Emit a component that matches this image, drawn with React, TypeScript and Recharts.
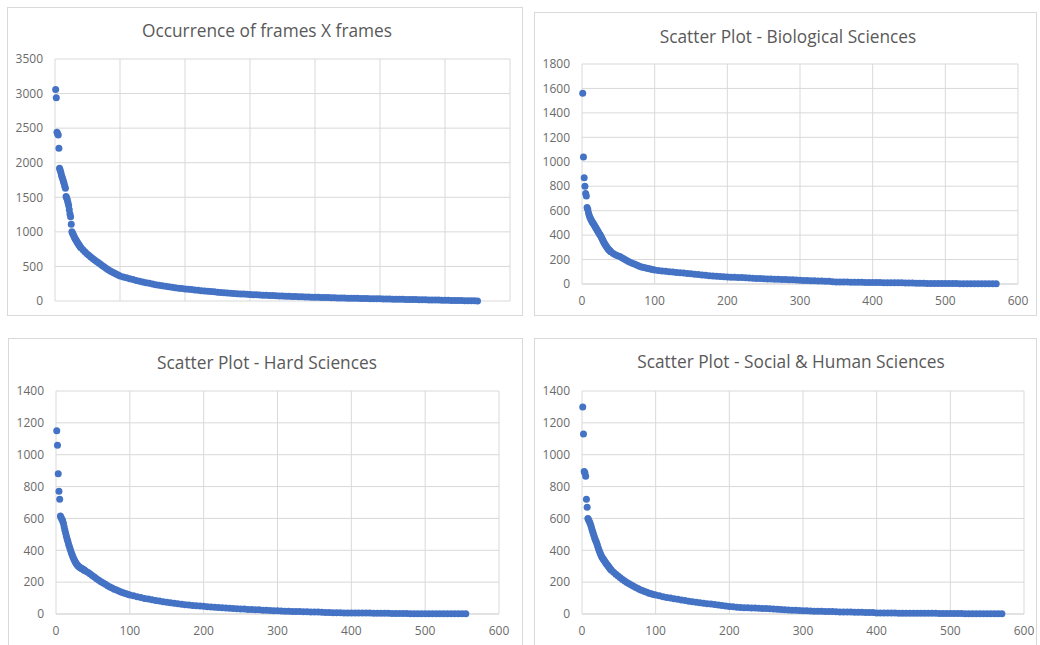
import { ScatterChart, Scatter, XAxis, YAxis, CartesianGrid } from "recharts";

// rank -> occurrences
const allFrames: [number, number][] = [
  [1, 3060], [2, 2940], [3, 2440], [4, 2420], [5, 2400], [6, 2210], [7, 1920], [8, 1890], [9, 1860], [10, 1820],
  [11, 1790], [12, 1760], [13, 1730], [14, 1700], [15, 1660], [16, 1630], [17, 1510], [18, 1490], [19, 1460], [20, 1420],
  [21, 1380], [22, 1320], [23, 1260], [24, 1220], [25, 1110], [26, 1000], [27, 980], [28, 960], [29, 940], [30, 920],
  [31, 900], [32, 885], [33, 870], [34, 855], [35, 840], [36, 825], [37, 810], [38, 795], [39, 782], [40, 770],
  [43, 740], [46, 712], [49, 685], [52, 660], [55, 636], [58, 613], [61, 592], [64, 572], [67, 552], [70, 532],
  [73, 510], [76, 490], [79, 470], [82, 452], [85, 435], [88, 420], [91, 405], [94, 390], [97, 375], [100, 362],
  [105, 348], [110, 335], [115, 322], [120, 310], [125, 298], [130, 287], [135, 276], [140, 265], [145, 255], [150, 245],
  [155, 236], [160, 228], [165, 220], [170, 212], [175, 205], [180, 198], [185, 192], [190, 186], [195, 180], [200, 175],
  [205, 170], [210, 165], [215, 160], [220, 155], [225, 150], [230, 145], [235, 140], [240, 136], [245, 132], [250, 128],
  [255, 124], [260, 120], [265, 117], [270, 113], [275, 110], [280, 106], [285, 103], [290, 100], [295, 97], [300, 94],
  [305, 91], [310, 89], [315, 86], [320, 84], [325, 82], [330, 80], [335, 78], [340, 76], [345, 74], [350, 72],
  [355, 70], [360, 68], [365, 66], [370, 64], [375, 62], [380, 61], [385, 59], [390, 58], [395, 56], [400, 55],
  [405, 53], [410, 52], [415, 50], [420, 49], [425, 48], [430, 46], [435, 45], [440, 44], [445, 42], [450, 41],
  [455, 40], [460, 39], [465, 38], [470, 37], [475, 36], [480, 35], [485, 34], [490, 33], [495, 32], [500, 31],
  [505, 30], [510, 29], [515, 28], [520, 27], [525, 26], [530, 25], [535, 24], [540, 23], [545, 22], [550, 21],
  [555, 20], [560, 19], [565, 18], [570, 17], [575, 16], [580, 15], [585, 14], [590, 13], [595, 12], [600, 11],
  [605, 10], [610, 9], [615, 8], [620, 7], [625, 6], [630, 5], [635, 4], [640, 3], [645, 2], [650, 1],
];

const biological: [number, number][] = [
  [1, 1560], [2, 1040], [3, 870], [4, 800], [5, 740], [6, 720], [7, 625], [8, 610], [9, 580], [10, 560],
  [11, 545], [12, 532], [13, 520], [14, 510], [15, 500], [16, 490], [17, 480], [18, 470], [19, 460], [20, 450],
  [21, 440], [22, 430], [23, 420], [24, 410], [25, 400], [26, 390], [27, 378], [28, 366], [29, 354], [30, 342],
  [31, 332], [32, 322], [33, 312], [34, 302], [35, 294], [36, 287], [37, 280], [38, 274], [39, 268], [40, 262],
  [43, 250], [46, 240], [49, 232], [52, 224], [55, 214], [58, 204], [61, 194], [64, 185], [67, 176], [70, 168],
  [73, 161], [76, 154], [79, 146], [82, 140], [85, 135], [88, 130], [91, 126], [94, 122], [97, 118], [100, 115],
  [105, 111], [110, 107], [115, 104], [120, 101], [125, 98], [130, 95], [135, 92], [140, 89], [145, 86], [150, 83],
  [155, 80], [160, 77], [165, 74], [170, 71], [175, 68], [180, 66], [185, 63], [190, 61], [195, 59], [200, 57],
  [205, 56], [210, 55], [215, 54], [220, 53], [225, 52], [230, 50], [235, 48], [240, 46], [245, 44], [250, 42],
  [255, 41], [260, 40], [265, 39], [270, 38], [275, 37], [280, 36], [285, 35], [290, 34], [295, 32], [300, 30],
  [305, 29], [310, 28], [315, 27], [320, 26], [325, 25], [330, 24], [335, 23], [340, 22], [345, 18], [350, 17],
  [355, 17], [360, 16], [365, 16], [370, 15], [375, 15], [380, 14], [385, 14], [390, 13], [395, 13], [400, 12],
  [405, 12], [410, 12], [415, 11], [420, 11], [425, 11], [430, 10], [435, 10], [440, 10], [445, 9], [450, 9],
  [455, 8], [460, 6], [465, 6], [470, 6], [475, 5], [480, 5], [485, 5], [490, 5], [495, 4], [500, 4],
  [505, 4], [510, 4], [515, 4], [520, 3], [525, 3], [530, 3], [535, 3], [540, 3], [545, 2], [550, 2],
  [555, 2], [560, 2], [565, 2], [570, 2],
];

const hardSciences: [number, number][] = [
  [1, 1150], [2, 1060], [3, 880], [4, 770], [5, 720], [6, 615], [7, 605], [8, 595], [9, 585], [10, 570],
  [11, 548], [12, 528], [13, 508], [14, 490], [15, 472], [16, 456], [17, 440], [18, 425], [19, 410], [20, 395],
  [21, 382], [22, 370], [23, 358], [24, 347], [25, 337], [26, 328], [27, 320], [28, 313], [29, 307], [30, 302],
  [31, 298], [32, 294], [33, 291], [34, 288], [35, 285], [36, 282], [37, 279], [38, 276], [39, 273], [40, 270],
  [43, 262], [46, 252], [49, 242], [52, 232], [55, 222], [58, 212], [61, 203], [64, 194], [67, 186], [70, 178],
  [73, 170], [76, 163], [79, 156], [82, 150], [85, 144], [88, 138], [91, 133], [94, 128], [97, 124], [100, 120],
  [105, 114], [110, 108], [115, 103], [120, 98], [125, 94], [130, 89], [135, 85], [140, 81], [145, 77], [150, 73],
  [155, 70], [160, 67], [165, 64], [170, 61], [175, 58], [180, 56], [185, 54], [190, 52], [195, 50], [200, 48],
  [205, 46], [210, 44], [215, 42], [220, 41], [225, 39], [230, 38], [235, 36], [240, 35], [245, 33], [250, 32],
  [255, 31], [260, 29], [265, 28], [270, 27], [275, 26], [280, 24], [285, 23], [290, 22], [295, 21], [300, 20],
  [305, 19], [310, 18], [315, 17], [320, 16], [325, 15], [330, 15], [335, 14], [340, 14], [345, 13], [350, 12],
  [355, 12], [360, 11], [365, 9], [370, 9], [375, 8], [380, 8], [385, 8], [390, 7], [395, 7], [400, 7],
  [405, 7], [410, 6], [415, 6], [420, 6], [425, 6], [430, 5], [435, 5], [440, 5], [445, 5], [450, 4],
  [455, 3], [460, 3], [465, 3], [470, 3], [475, 3], [480, 2], [485, 2], [490, 2], [495, 2], [500, 2],
  [505, 2], [510, 2], [515, 1], [520, 1], [525, 1], [530, 1], [535, 1], [540, 1], [545, 1], [550, 1],
  [555, 1],
];

const socialHuman: [number, number][] = [
  [1, 1300], [2, 1130], [3, 895], [4, 885], [5, 865], [6, 720], [7, 670], [8, 600], [9, 590], [10, 580],
  [11, 570], [12, 555], [13, 540], [14, 525], [15, 510], [16, 495], [17, 480], [18, 468], [19, 456], [20, 444],
  [21, 430], [22, 416], [23, 402], [24, 390], [25, 378], [26, 368], [27, 358], [28, 350], [29, 343], [30, 337],
  [31, 330], [32, 323], [33, 316], [34, 310], [35, 304], [36, 298], [37, 292], [38, 286], [39, 280], [40, 275],
  [43, 262], [46, 250], [49, 238], [52, 227], [55, 217], [58, 207], [61, 198], [64, 190], [67, 182], [70, 174],
  [73, 167], [76, 160], [79, 153], [82, 147], [85, 141], [88, 136], [91, 131], [94, 127], [97, 123], [100, 119],
  [105, 114], [110, 109], [115, 104], [120, 100], [125, 96], [130, 92], [135, 88], [140, 84], [145, 80], [150, 77],
  [155, 74], [160, 71], [165, 68], [170, 65], [175, 62], [180, 59], [185, 56], [190, 53], [195, 50], [200, 47],
  [205, 45], [210, 43], [215, 41], [220, 40], [225, 39], [230, 38], [235, 37], [240, 36], [245, 35], [250, 34],
  [255, 33], [260, 32], [265, 30], [270, 28], [275, 26], [280, 25], [285, 24], [290, 23], [295, 22], [300, 21],
  [305, 20], [310, 19], [315, 18], [320, 18], [325, 17], [330, 16], [335, 16], [340, 15], [345, 14], [350, 13],
  [355, 13], [360, 12], [365, 12], [370, 11], [375, 11], [380, 11], [385, 10], [390, 10], [395, 9], [400, 7],
  [405, 7], [410, 6], [415, 6], [420, 6], [425, 6], [430, 5], [435, 5], [440, 5], [445, 5], [450, 5],
  [455, 4], [460, 4], [465, 4], [470, 4], [475, 4], [480, 4], [485, 3], [490, 3], [495, 3], [500, 3],
  [505, 3], [510, 3], [515, 3], [520, 2], [525, 2], [530, 2], [535, 2], [540, 2], [545, 2], [550, 2],
  [555, 2], [560, 2], [565, 2], [570, 2],
];

const xTicks700 = [0, 100, 200, 300, 400, 500, 600, 700];
const xTicks600 = [0, 100, 200, 300, 400, 500, 600];
const yTicksAll = [0, 500, 1000, 1500, 2000, 2500, 3000, 3500];
const yTicksBio = [0, 200, 400, 600, 800, 1000, 1200, 1400, 1600, 1800];
const yTicks1400 = [0, 200, 400, 600, 800, 1000, 1200, 1400];

const BLUE = "#4472C4";
const GRID = "#d9d9d9";
const FONT = "'Open Sans', 'Noto Sans', sans-serif";
const Y_W = 40;
const X_H = 24;

type Box = { left: number; top: number; width: number; height: number };
type Plot = { left: number; top: number; right: number; bottom: number };

type PanelProps = {
  title: string;
  titleX: number;
  titleY: number;
  points: [number, number][];
  xTicks: number[];
  yTicks: number[];
  showXTicks: boolean;
  box: Box;
  plot: Plot;
};

function Panel({ title, titleX, titleY, points, xTicks, yTicks, showXTicks, box, plot }: PanelProps) {
  const data = points.map(([x, y]) => ({ x, y }));
  const xh = showXTicks ? X_H : 0;
  const margin = {
    top: plot.top - box.top,
    left: plot.left - box.left - Y_W,
    right: box.left + box.width - plot.right,
    bottom: box.top + box.height - plot.bottom - xh,
  };
  const tick = { fill: "#6b6b6b", fontSize: 12, fontFamily: FONT };

  return (
    <>
      <div
        style={{
          position: "absolute",
          left: box.left,
          top: box.top,
          width: box.width,
          height: box.height,
          border: `1px solid ${GRID}`,
          boxSizing: "border-box",
          background: "#fff",
        }}
      />
      <div
        style={{
          position: "absolute",
          left: titleX - 250,
          width: 500,
          top: titleY - 12,
          lineHeight: "24px",
          textAlign: "center",
          fontFamily: FONT,
          fontSize: 17.3,
          color: "#595959",
        }}
      >
        {title}
      </div>
      <div style={{ position: "absolute", left: box.left, top: box.top }}>
        <ScatterChart width={box.width} height={box.height} margin={margin}>
          <CartesianGrid stroke={GRID} />
          <XAxis
            type="number"
            dataKey="x"
            domain={[xTicks[0], xTicks[xTicks.length - 1]]}
            ticks={xTicks}
            interval={0}
            height={xh}
            tick={showXTicks ? tick : () => <g />}
            tickLine={false}
            tickSize={0}
            tickMargin={12}
            axisLine={showXTicks ? { stroke: GRID } : false}
          />
          <YAxis
            type="number"
            dataKey="y"
            domain={[yTicks[0], yTicks[yTicks.length - 1]]}
            ticks={yTicks}
            interval={0}
            width={Y_W}
            tick={tick}
            tickLine={false}
            tickSize={0}
            tickMargin={12}
            axisLine={false}
          />
          <Scatter
            data={data}
            isAnimationActive={false}
            shape={(p: any) => <circle cx={p.cx} cy={p.cy} r={3.5} fill={BLUE} />}
          />
        </ScatterChart>
      </div>
    </>
  );
}

export default function App() {
  return (
    <div
      style={{
        position: "absolute",
        left: 0,
        top: 0,
        width: 1040,
        height: 645,
        overflow: "hidden",
        background: "#fff",
      }}
    >
      <Panel
        title="Occurrence of frames X frames"
        titleX={267}
        titleY={31}
        points={allFrames}
        xTicks={xTicks700}
        yTicks={yTicksAll}
        showXTicks={false}
        box={{ left: 7, top: 7, width: 516, height: 309 }}
        plot={{ left: 55, top: 59, right: 510, bottom: 301 }}
      />
      <Panel
        title="Scatter Plot - Biological Sciences"
        titleX={788}
        titleY={37}
        points={biological}
        xTicks={xTicks600}
        yTicks={yTicksBio}
        showXTicks={true}
        box={{ left: 534, top: 12, width: 503, height: 304 }}
        plot={{ left: 582, top: 64, right: 1018, bottom: 284 }}
      />
      <Panel
        title="Scatter Plot - Hard Sciences"
        titleX={267}
        titleY={363}
        points={hardSciences}
        xTicks={xTicks600}
        yTicks={yTicks1400}
        showXTicks={true}
        box={{ left: 8, top: 338, width: 515, height: 320 }}
        plot={{ left: 56, top: 391, right: 499, bottom: 614 }}
      />
      <Panel
        title="Scatter Plot - Social & Human Sciences"
        titleX={791}
        titleY={362}
        points={socialHuman}
        xTicks={xTicks600}
        yTicks={yTicks1400}
        showXTicks={true}
        box={{ left: 534, top: 338, width: 503, height: 320 }}
        plot={{ left: 582, top: 391, right: 1024, bottom: 614 }}
      />
    </div>
  );
}
